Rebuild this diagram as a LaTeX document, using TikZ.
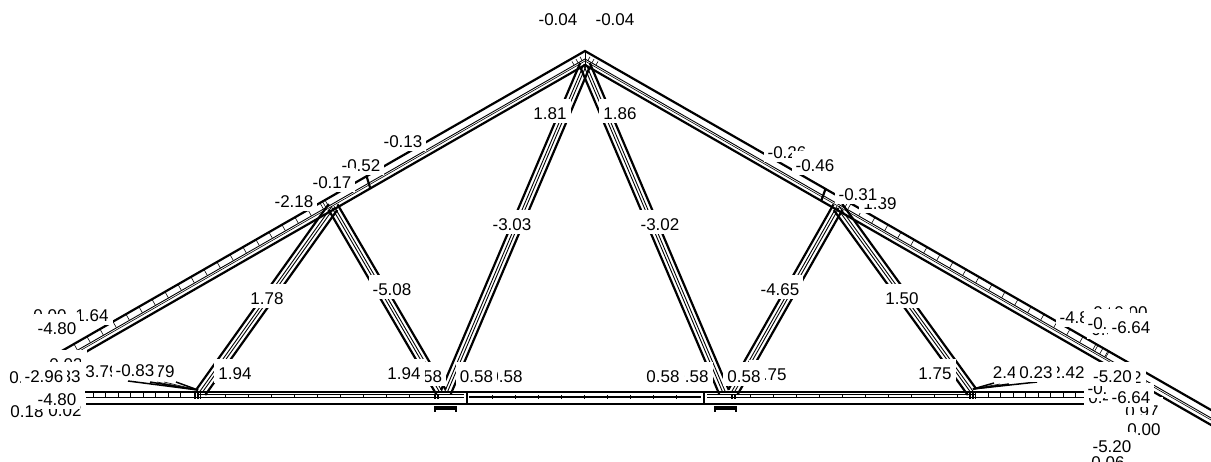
\documentclass[tikz,border=0pt]{standalone}
\usepackage{fontspec}
\setmainfont{Liberation Sans}
\usetikzlibrary{calc}
\tikzset{
  x=1pt,y=-1pt,
  heavy/.style={line width=2.2pt,black},
  fine/.style={line width=0.9pt,black},
  hair/.style={line width=0.6pt,black},
  lab/.style={fill=white,inner sep=0pt,inner xsep=4pt,text height=20.5pt,text depth=3.5pt,anchor=base,font=\fontsize{17}{17}\selectfont,text=black}
}
\newcommand{\trusslab}[4]{\node[lab] (#1) at (#2,#3) {#4};}
\newcommand{\webbar}[2]{%
  \draw[heavy] ($(#1)!5.2pt!90:(#2)$) -- ($(#2)!5.2pt!-90:(#1)$);
  \draw[heavy] ($(#1)!5.2pt!-90:(#2)$) -- ($(#2)!5.2pt!90:(#1)$);
  \draw[fine] ($(#1)!1.3pt!90:(#2)$) -- ($(#2)!1.3pt!-90:(#1)$);
  \draw[fine] ($(#1)!1.3pt!-90:(#2)$) -- ($(#2)!1.3pt!90:(#1)$);}
\begin{document}
\begin{tikzpicture}
\useasboundingbox (0,0) rectangle (1211,461);
% key points
\coordinate (apex) at (585,51);
\coordinate (apexin) at (585,65);
\coordinate (lend) at (60,352);
\coordinate (lendin) at (84,353);
\coordinate (lendm) at (70,354.5);
\coordinate (rend) at (1225,418);
\coordinate (rendin) at (1225,433);
\coordinate (rendm) at (1225,426);
\coordinate (apexm) at (585,59);
\coordinate (lp) at (333,207);
\coordinate (rp) at (838,207);
\coordinate (lb1) at (201,392);
\coordinate (lb2) at (441,392);
\coordinate (lb3) at (446,392);
\coordinate (rb3) at (724,392);
\coordinate (rb2) at (733,392);
\coordinate (rb1) at (972,392);
\coordinate (bl) at (85,392);
\coordinate (br) at (1085,392);
\coordinate (bl2) at (85,404);
\coordinate (br2) at (1085,404);
\coordinate (bl3) at (85,397);
\coordinate (br3) at (1085,397);
% chords
\draw[heavy,line join=miter] (lend) -- (apex) -- (rend);
\draw[heavy] (lendin) -- (apexin) -- (rendin);
\draw[fine] (lendm) -- (apexm) -- (rendm);
\draw[hair] ($(apexm)+(0,2)$) -- ($(lendm)+(0,2)$);
\draw[hair] ($(apexm)+(0,2)$) -- ($(rendm)+(0,2)$);
\draw[fine] (apex) -- (apexin);
% chord ticks
\foreach \x in {74,87,...,310} \draw[hair] (\x,{51+(585-\x)*0.5735}) -- ++(3.4,6);
\foreach \x in {862,875,...,1110} \draw[hair] (\x,{51+(\x-585)*0.5735}) -- ++(-3.4,6);
\foreach \x in {320,322.5,325} \draw[hair] (\x,{51+(585-\x)*0.5735}) -- ++(3.4,6);
\foreach \x in {848,851,1098,1103,1108} \draw[hair] (\x,{51+(\x-585)*0.5735}) -- ++(-3.4,6);
\foreach \x in {572,576,580} \draw[hair] (\x,{51+(585-\x)*0.5735+3}) -- ++(2,3.5);
\foreach \x in {590,594,598} \draw[hair] (\x,{51+(\x-585)*0.5735+3}) -- ++(-2,3.5);
% chord splices
\draw[heavy] (366.5,176) -- (370.5,189);
\draw[heavy] (825.5,189) -- (821.5,200);
% webs
\webbar{lp}{lb1}
\webbar{lp}{lb2}
\webbar{apexin}{lb3}
\webbar{apexin}{rb3}
\webbar{rp}{rb2}
\webbar{rp}{rb1}
% bottom chord
\draw[heavy] (bl) -- (br);
\draw[heavy] (bl2) -- (br2);
\draw[fine] (bl3) -- (464,397);
\draw[hair] (198,394.5) -- (464,394.5);
\draw[line width=1.4pt] (469,397) -- (701,397);
\draw[fine] (707,397) -- (br3);
\draw[hair] (707,394.5) -- (975,394.5);
\draw[heavy] (467,392) -- (467,404);
\draw[heavy] (704,392) -- (704,404);
\foreach \x in {93,105.5,...,190} \draw[hair] (\x,392) -- (\x,397);
\foreach \x in {988,1000.5,...,1085} \draw[hair] (\x,392) -- (\x,397);
\foreach \x in {225,248,...,420} \draw[hair] (\x,394.5) -- (\x,397);
\foreach \x in {750,773,...,960} \draw[hair] (\x,394.5) -- (\x,397);
\foreach \x in {492,515,...,690} \draw[hair] (\x,395) -- (\x,399);
\foreach \x in {194,195.5,197,198.5,200} \draw[hair] (\x,392) -- (\x,399);
\foreach \x in {434,435.5,437,438.5} \draw[hair] (\x,394) -- (\x,399);
\foreach \x in {731,732.5,734,735.5} \draw[hair] (\x,394) -- (\x,399);
\foreach \x in {969,970.5,972,973.5,975} \draw[hair] (\x,392) -- (\x,399);
% heel gussets
\coordinate (lg) at (198,390);
\coordinate (rg) at (973,389);
\draw[line width=1.5pt] (lg) -- (128,381);
\draw[line width=1.5pt] (lg) -- (150,382);
\draw[line width=1.5pt] (lg) -- (176,382);
\draw[hair] (lg) -- (157,382);
\draw[hair] (lg) -- (164,382);
\draw[line width=1.5pt] (rg) -- (994,383);
\draw[line width=1.5pt] (rg) -- (1009,384);
\draw[line width=1.5pt] (rg) -- (1037,382);
\draw[hair] (rg) -- (1000,384);
% bearing plates
\draw[line width=1.5pt] (435,406) -- (435,412) (456,406) -- (456,412);
\draw[line width=3.5pt] (435,408) -- (456,408);
\draw[line width=1.5pt] (715,406) -- (715,412) (736,406) -- (736,412);
\draw[line width=3.5pt] (715,408) -- (736,408);
% labels, later ones mask earlier ones
\trusslab{a1}{558}{25}{-0.04}
\trusslab{a2}{615}{25}{-0.04}
\trusslab{b1}{403}{147}{-0.13}
\trusslab{b2}{361}{171}{-0.52}
\trusslab{b3}{332}{188}{-0.17}
\trusslab{b4}{294}{207}{-2.18}
\trusslab{c1}{550}{119}{1.81}
\trusslab{c2}{620}{119}{1.86}
\trusslab{c3}{512}{230}{-3.03}
\trusslab{c4}{660}{230}{-3.02}
\trusslab{d1}{787}{158}{-0.26}
\trusslab{d2}{815}{171}{-0.46}
\trusslab{d3}{880}{209}{1.39}
\trusslab{d4}{858}{200}{-0.31}
\trusslab{e1}{267}{304}{1.78}
\trusslab{e2}{392}{295}{-5.08}
\trusslab{e3}{780}{295}{-4.65}
\trusslab{e4}{902}{304}{1.50}
\trusslab{f1}{50}{321}{0.00}
\trusslab{f2}{92}{321}{1.64}
\trusslab{f3}{57}{334}{-4.80}
\trusslab{g1}{27}{417}{0.18}
\trusslab{g2}{65}{416}{0.02}
\trusslab{g3}{57}{405}{-4.80}
\trusslab{g4}{66}{370}{0.03}
\trusslab{g5}{26}{383}{0.18}
\trusslab{g7}{64}{382}{0.83}
\trusslab{g8}{102}{377}{3.79}
\trusslab{g10}{158}{377}{1.79}
\trusslab{g9}{135}{376}{-0.83}
\trusslab{g6}{44}{382}{-2.96}
\trusslab{h1}{235}{379}{1.94}
\trusslab{h3}{425.5}{382}{0.58}
\trusslab{h2}{404}{379}{1.94}
\trusslab{h4}{506}{382}{0.58}
\trusslab{h5}{476.5}{382}{0.58}
\trusslab{h7}{692}{382}{0.58}
\trusslab{h6}{663}{382}{0.58}
\trusslab{h8}{770}{380}{1.75}
\trusslab{h9}{744}{382}{0.58}
\trusslab{h10}{935}{379}{1.75}
\trusslab{i1}{1009.5}{378}{2.42}
\trusslab{i3}{1068}{378}{2.42}
\trusslab{i2}{1036}{378}{0.23}
\trusslab{j1}{1079}{323}{-4.80}
\trusslab{j2}{1110}{318}{0.00}
\trusslab{j3}{1131}{318}{0.00}
\trusslab{j4}{1108}{335}{0.03}
\trusslab{j5}{1107}{329}{-0.96}
\trusslab{j6}{1131}{333}{-6.64}
\trusslab{k1}{1125}{383}{0.02}
\trusslab{k4}{1105}{403}{0.42}
\trusslab{k2}{1107}{394}{-0.83}
\trusslab{k3}{1112.5}{382}{-5.20}
\trusslab{l1}{1142}{417}{0.97}
\trusslab{k5}{1131}{403}{-6.64}
\trusslab{l2}{1144}{435}{0.00}
\trusslab{l3}{1108}{468}{0.06}
\trusslab{l4}{1112}{452}{-5.20}
\end{tikzpicture}
\end{document}
